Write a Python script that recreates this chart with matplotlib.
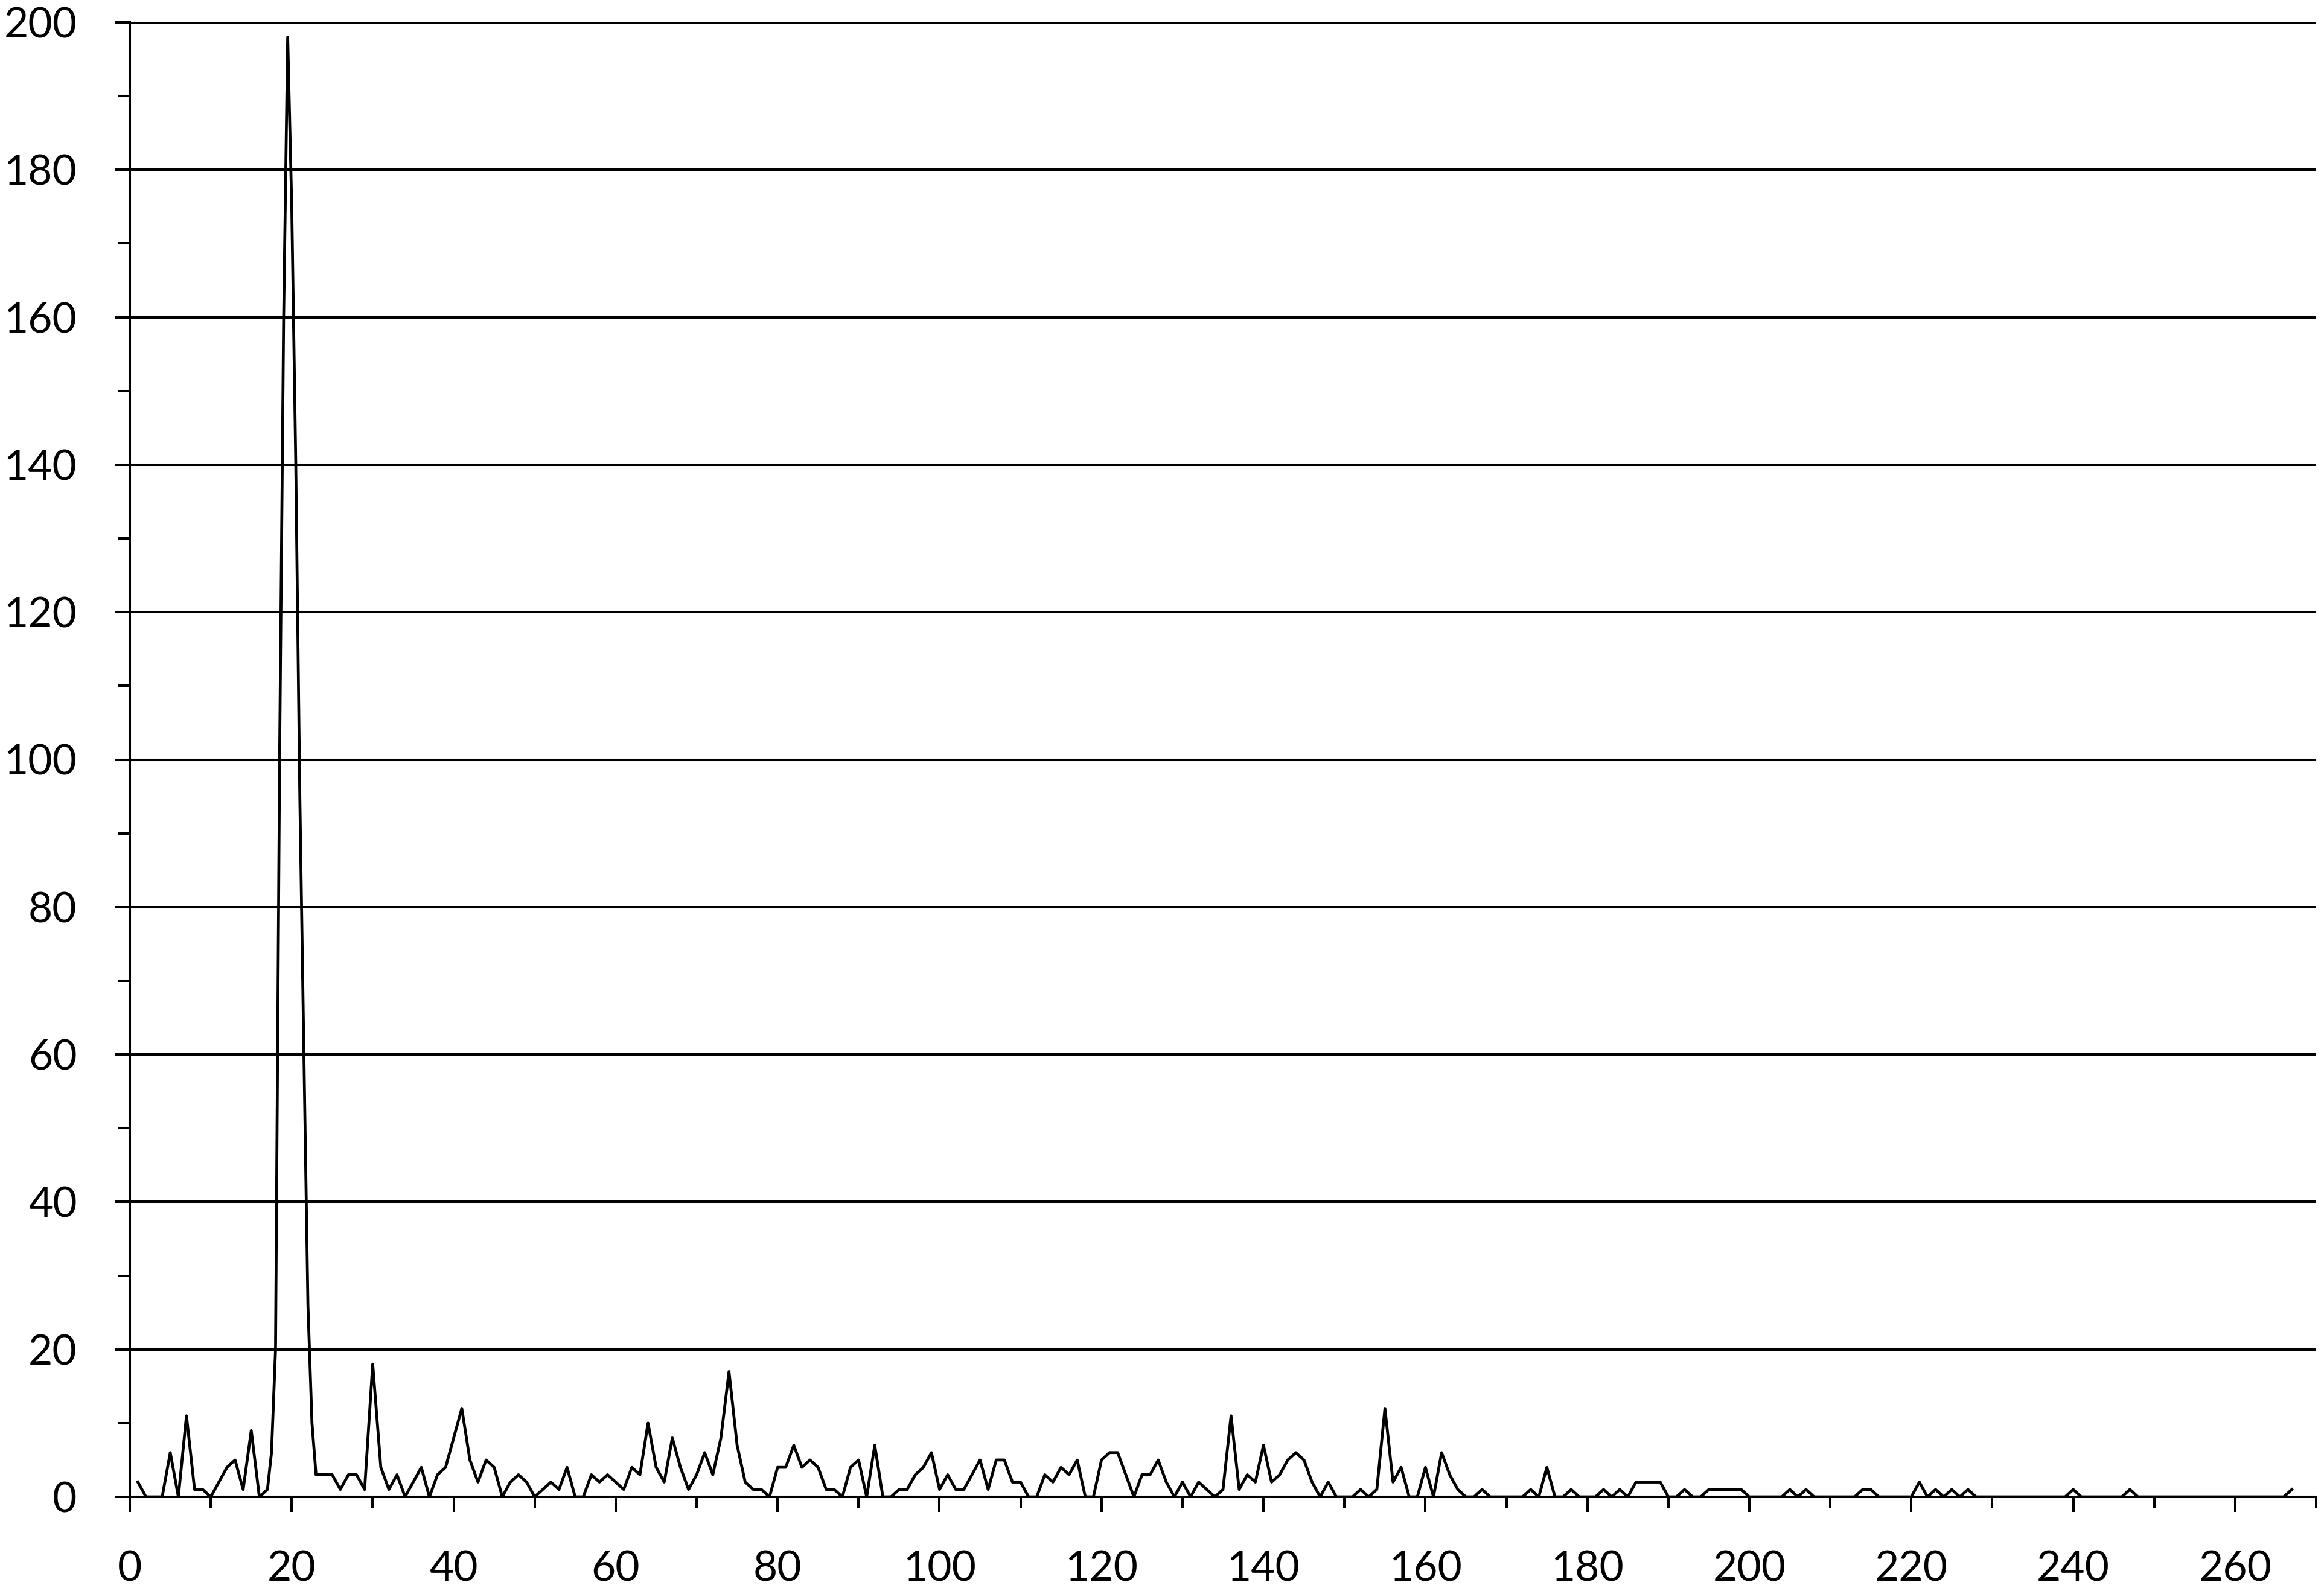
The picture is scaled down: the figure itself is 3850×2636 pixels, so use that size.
import matplotlib
matplotlib.use("Agg")
import matplotlib.pyplot as plt
from matplotlib.ticker import MultipleLocator


# polyline vertices (x position, value)
pos = [1, 2, 4, 5, 6, 7, 8, 9, 10, 11, 12, 13, 14, 15, 16, 17, 17.5,
       18, 18.5, 19, 19.5, 20, 20.5, 21, 21.5, 22, 22.5, 23, 24, 25, 26, 27, 28, 29,
       30, 31, 32, 33, 34, 35, 36, 37, 38, 39, 40, 41, 42, 43, 44, 45, 46, 47, 48, 49,
       50, 51, 52, 53, 54, 55, 56, 57, 58, 59, 60, 61, 62, 63, 64, 65, 66, 67, 68, 69,
       70, 71, 72, 73, 74, 75, 76, 77, 78, 79, 80, 81, 82, 83, 84, 85, 86, 87, 88, 89,
       90, 91, 92, 93, 94, 95, 96, 97, 98, 99, 100, 101, 102, 103, 104, 105, 106, 107,
       108, 109, 110, 111, 112, 113, 114, 115, 116, 117, 118, 119, 120, 121, 122, 123,
       124, 125, 126, 127, 128, 129, 130, 131, 132, 133, 134, 135, 136, 137, 138, 139,
       140, 141, 142, 143, 144, 145, 146, 147, 148, 149, 151, 152, 153, 154, 155, 156,
       157, 158, 159, 160, 161, 162, 163, 164, 165, 166, 167, 168, 172, 173, 174, 175,
       176, 177, 178, 179, 181, 182, 183, 184, 185, 186, 187, 188, 189, 190, 191, 192,
       193, 194, 195, 196, 197, 198, 199, 200, 204, 205, 206, 207, 208, 213, 214, 215,
       216, 220, 221, 222, 223, 224, 225, 226, 227, 228, 239, 240, 241, 246, 247, 248,
       266, 267]
counts = [2, 0, 0, 6, 0, 11, 1, 1, 0, 2, 4, 5, 1, 9, 0, 1, 6,
          20, 100, 160, 198, 175, 140, 95, 60, 26, 10, 3, 3, 3, 1, 3, 3, 1,
          18, 4, 1, 3, 0, 2, 4, 0, 3, 4, 8, 12, 5, 2, 5, 4, 0, 2, 3, 2,
          0, 1, 2, 1, 4, 0, 0, 3, 2, 3, 2, 1, 4, 3, 10, 4, 2, 8, 4, 1,
          3, 6, 3, 8, 17, 7, 2, 1, 1, 0, 4, 4, 7, 4, 5, 4, 1, 1, 0, 4,
          5, 0, 7, 0, 0, 1, 1, 3, 4, 6, 1, 3, 1, 1, 3, 5, 1, 5,
          5, 2, 2, 0, 0, 3, 2, 4, 3, 5, 0, 0, 5, 6, 6, 3,
          0, 3, 3, 5, 2, 0, 2, 0, 2, 1, 0, 1, 11, 1, 3, 2,
          7, 2, 3, 5, 6, 5, 2, 0, 2, 0, 0, 1, 0, 1, 12, 2,
          4, 0, 0, 4, 0, 6, 3, 1, 0, 0, 1, 0, 0, 1, 0, 4,
          0, 0, 1, 0, 0, 1, 0, 1, 0, 2, 2, 2, 2, 0, 0, 1,
          0, 0, 1, 1, 1, 1, 1, 0, 0, 1, 0, 1, 0, 0, 1, 1,
          0, 0, 2, 0, 1, 0, 1, 0, 1, 0, 0, 1, 0, 0, 1, 0,
          0, 1]

x_max = 270
y_max = 200

plt.rcParams["font.family"] = ["Lato", "DejaVu Sans"]

fig = plt.figure(figsize=(38.5, 26.36), dpi=100)
ax = fig.add_axes([215 / 3850, 1 - 2480 / 2636, (3837 - 215) / 3850, (2480 - 37) / 2636])

ax.plot(pos, counts, color="black", lw=3.4, solid_joinstyle="round", zorder=3)

ax.set_xlim(0, x_max)
ax.set_ylim(0, y_max)
ax.xaxis.set_major_locator(MultipleLocator(20))
ax.xaxis.set_minor_locator(MultipleLocator(10))
ax.yaxis.set_major_locator(MultipleLocator(20))
ax.yaxis.set_minor_locator(MultipleLocator(10))

ax.grid(True, axis="y", which="major", color="black", lw=2.9)
ax.set_axisbelow(True)

for side in ["top", "right"]:
    ax.spines[side].set_visible(False)
for side in ["left", "bottom"]:
    ax.spines[side].set_linewidth(2.9)
    ax.spines[side].set_color("black")

ax.tick_params(axis="both", which="major", direction="out", length=18, width=2.9,
               labelsize=50, colors="black")
ax.tick_params(axis="both", which="minor", direction="out", length=14, width=2.9)
ax.tick_params(axis="y", which="major", pad=45)
ax.tick_params(axis="x", which="major", pad=46)

fig.savefig("out.png", dpi=100, facecolor="white")
